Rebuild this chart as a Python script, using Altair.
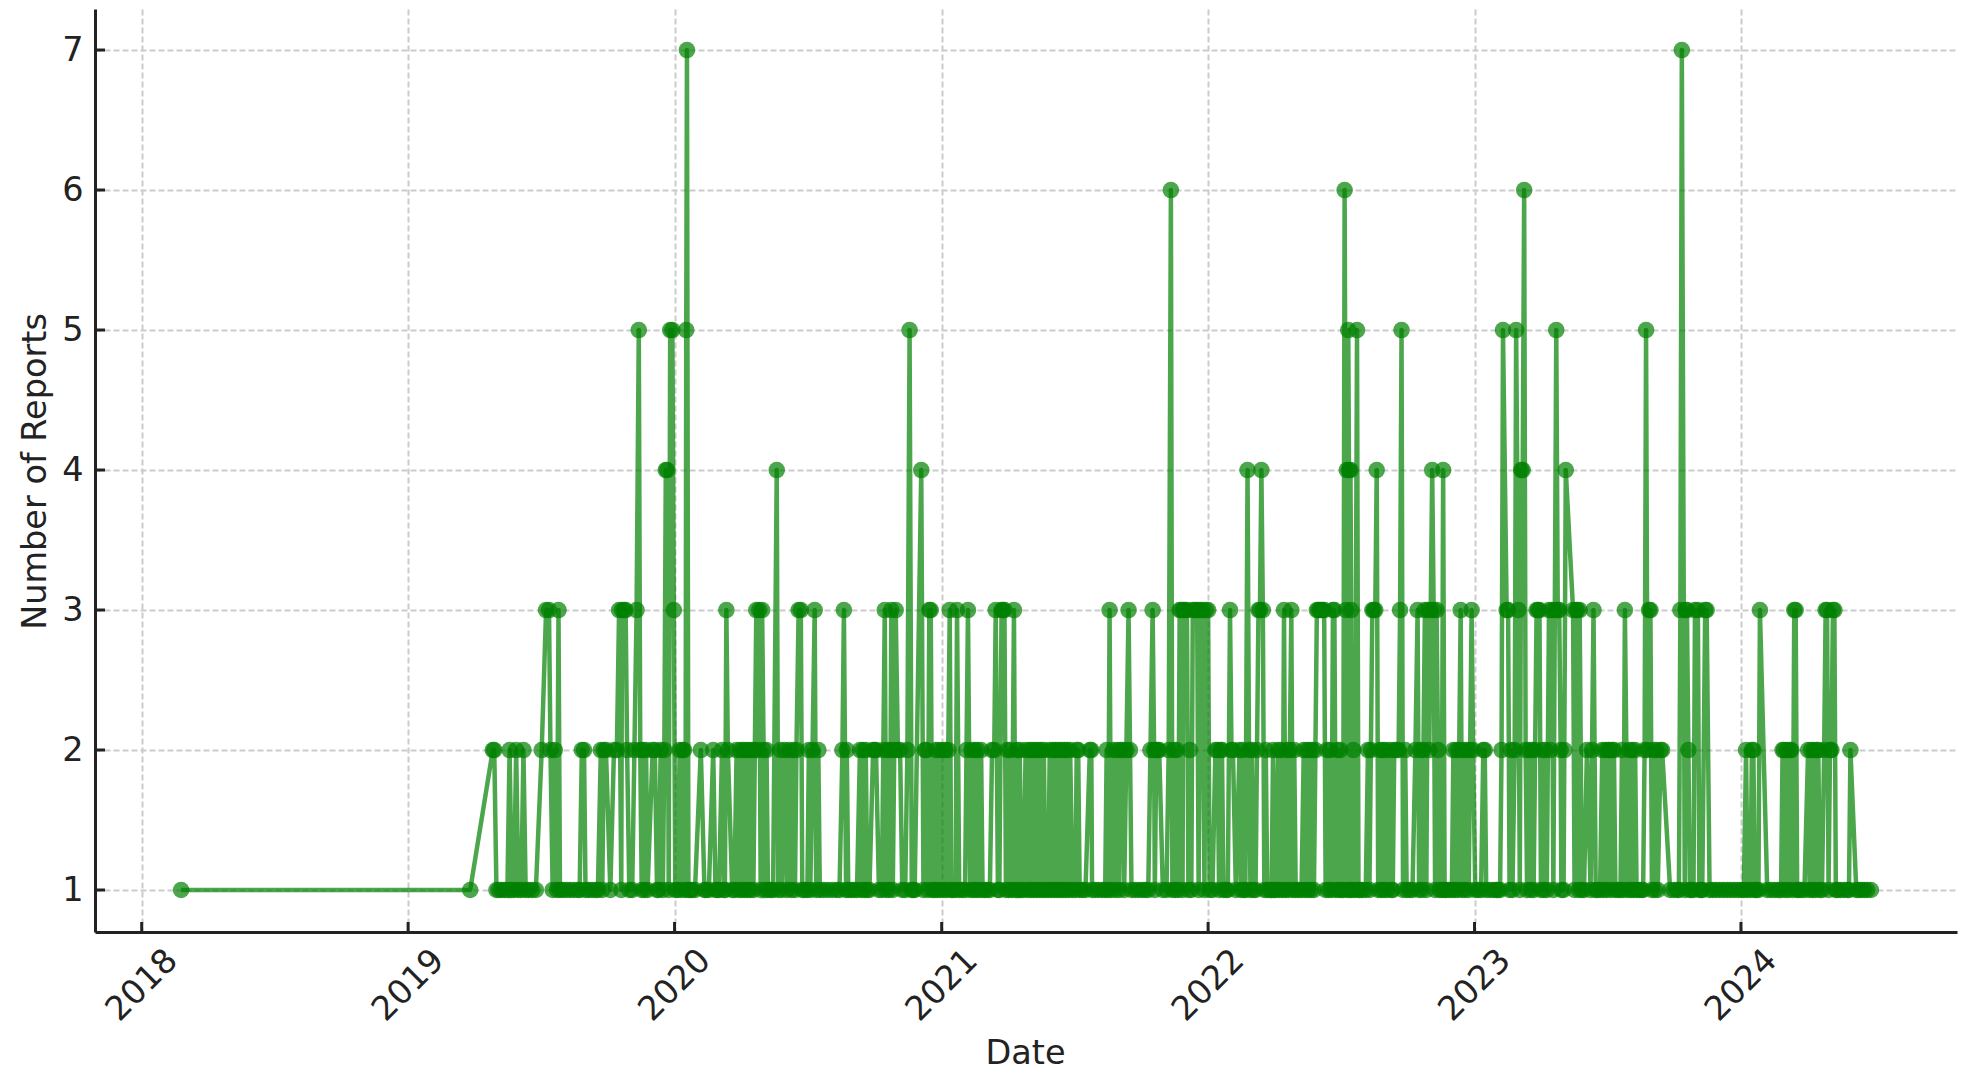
import altair as alt
import pandas as pd

# (days since the first tick reference date, number of reports)
reports_2018_19 = [(52,1),(448,1),(479,2),(481,2),(484,1),(487,1),(491,1),(495,1),(499,1),(502,2),(505,1),(508,1),(511,2),(514,1),(518,1),(521,2),(524,1),(528,1),(533,1),(538,1),(546,2),(552,3),(556,3),(558,2),(561,1),(564,2),(567,1),(569,3),(571,1),(575,1),(580,1),(585,1),(590,1),(596,1),(598,1),(601,2),(604,2),(606,1),(610,1),(615,1),(620,1),(623,1),(627,2),(629,1),(631,2),(634,2),(640,1),(645,2),(649,2),(652,3),(655,1),(656,3),(659,3),(661,3),(663,2),(666,1),(670,1),(673,2),(676,3),(679,5),(681,2),(683,1),(685,2),(687,1),(689,2),(691,1),(698,2),(701,2),(704,1),(706,1),(709,2),(712,1),(714,2),(716,4),(718,4),(720,1),(722,5),(725,5),(727,3),(729,1)]
reports_2020 = [(732,1),(735,2),(737,1),(739,2),(741,2),(743,1),(744,5),(745,7),(747,1),(750,1),(752,1),(756,1),(764,2),(769,1),(771,1),(775,1),(781,2),(784,1),(787,1),(789,1),(793,2),(796,1),(797,1),(799,3),(801,2),(807,1),(810,1),(813,2),(816,1),(818,2),(820,1),(822,2),(824,1),(826,2),(828,1),(830,2),(832,1),(834,2),(836,1),(838,2),(840,3),(842,2),(844,3),(846,1),(848,3),(850,2),(852,1),(854,2),(856,1),(860,1),(863,1),(868,4),(870,1),(873,2),(875,1),(879,2),(882,1),(885,2),(888,1),(891,2),(893,1),(895,2),(898,3),(901,3),(903,1),(906,1),(910,1),(912,2),(914,1),(917,2),(920,3),(922,1),(925,2),(927,1),(932,1),(938,1),(944,1),(950,1),(954,1),(958,2),(960,3),(963,1),(964,2),(966,1),(970,1),(974,1),(978,1),(982,2),(984,1),(986,2),(988,1),(990,2),(992,1),(995,1),(1000,2),(1002,2),(1004,2),(1008,1),(1012,1),(1014,2),(1016,3),(1018,1),(1020,2),(1022,1),(1024,2),(1025,3),(1027,1),(1029,2),(1031,3),(1034,2),(1037,2),(1040,1),(1044,1),(1047,2),(1050,5),(1053,1),(1055,1),(1057,1),(1066,4),(1069,1),(1071,2),(1073,2),(1075,1),(1077,3),(1079,3),(1081,1),(1084,1),(1086,2),(1088,1),(1090,2),(1092,1),(1095,2)]
reports_2021 = [(1097,1),(1099,2),(1101,1),(1103,2),(1105,3),(1107,1),(1109,1),(1113,1),(1115,3),(1118,1),(1122,1),(1126,1),(1128,2),(1130,3),(1133,1),(1135,2),(1137,1),(1139,2),(1141,1),(1143,2),(1145,1),(1148,2),(1150,1),(1153,1),(1157,1),(1160,1),(1163,2),(1166,2),(1168,3),(1171,1),(1173,1),(1176,3),(1178,3),(1180,3),(1182,1),(1184,2),(1186,1),(1188,2),(1190,1),(1193,3),(1195,1),(1197,2),(1199,1),(1201,2),(1203,1),(1206,1),(1209,2),(1212,1),(1214,2),(1216,1),(1218,2),(1220,1),(1222,2),(1224,1),(1226,2),(1228,1),(1230,2),(1232,1),(1234,2),(1236,1),(1240,1),(1242,2),(1244,1),(1246,2),(1248,1),(1250,2),(1252,1),(1254,2),(1256,1),(1258,2),(1260,1),(1262,2),(1264,1),(1266,2),(1268,1),(1270,2),(1273,1),(1277,1),(1279,2),(1281,2),(1283,1),(1287,1),(1291,1),(1297,2),(1299,2),(1300,1),(1304,1),(1309,1),(1314,1),(1318,1),(1320,2),(1322,1),(1324,3),(1326,1),(1329,2),(1332,1),(1334,2),(1337,1),(1339,2),(1342,2),(1344,1),(1347,2),(1350,3),(1352,2),(1354,1),(1359,1),(1364,1),(1369,1),(1373,1),(1377,1),(1380,2),(1383,3),(1385,2),(1386,1),(1388,2),(1390,2),(1392,2),(1397,1),(1402,1),(1405,2),(1408,6),(1410,1),(1412,2),(1414,1),(1416,2),(1418,1),(1420,3),(1422,3),(1424,1),(1425,3),(1427,3),(1430,3),(1432,1),(1434,2),(1436,1),(1438,3),(1441,3),(1444,3),(1446,1),(1448,3),(1451,3),(1454,1),(1456,3),(1459,3)]
reports_2022 = [(1461,1),(1465,1),(1469,2),(1472,2),(1474,1),(1476,2),(1478,2),(1480,1),(1484,1),(1486,1),(1489,3),(1491,2),(1493,2),(1497,1),(1502,2),(1504,1),(1506,2),(1508,1),(1510,1),(1513,4),(1515,2),(1517,1),(1519,2),(1521,1),(1524,1),(1526,2),(1528,3),(1530,3),(1532,4),(1534,3),(1536,1),(1538,2),(1540,1),(1544,1),(1546,1),(1548,2),(1550,1),(1552,1),(1555,2),(1557,1),(1559,2),(1561,1),(1563,3),(1565,1),(1567,2),(1569,1),(1571,2),(1573,3),(1575,1),(1577,2),(1579,1),(1583,1),(1587,1),(1590,2),(1592,1),(1594,2),(1596,1),(1598,2),(1600,1),(1602,2),(1604,1),(1606,2),(1608,3),(1610,3),(1612,3),(1614,3),(1616,3),(1618,3),(1620,1),(1622,2),(1624,1),(1626,2),(1628,1),(1630,3),(1632,3),(1634,1),(1636,2),(1638,1),(1640,2),(1642,1),(1644,1),(1646,6),(1648,3),(1649,4),(1650,1),(1651,5),(1652,4),(1653,1),(1654,4),(1655,3),(1656,1),(1658,2),(1660,1),(1663,5),(1665,1),(1667,1),(1670,1),(1675,1),(1678,2),(1680,1),(1682,2),(1684,3),(1686,3),(1688,3),(1690,4),(1692,1),(1694,2),(1696,1),(1698,2),(1700,1),(1702,2),(1704,1),(1708,2),(1710,1),(1712,1),(1714,2),(1717,2),(1720,2),(1722,3),(1724,5),(1726,1),(1729,2),(1731,1),(1735,1),(1739,1),(1743,2),(1746,3),(1748,1),(1750,2),(1752,1),(1754,2),(1756,3),(1758,1),(1760,3),(1762,2),(1764,3),(1766,4),(1768,3),(1770,1),(1772,3),(1774,2),(1776,1),(1779,1),(1781,4),(1783,1),(1785,1),(1789,1),(1793,1),(1795,2),(1797,1),(1799,2),(1801,1),(1803,2),(1805,3),(1807,1),(1809,2),(1811,1),(1813,2),(1816,1),(1818,2),(1820,3),(1822,2),(1825,1)]
reports_2023 = [(1829,1),(1833,1),(1836,2),(1838,2),(1840,1),(1845,1),(1850,1),(1854,1),(1856,1),(1859,1),(1861,2),(1863,5),(1868,3),(1870,3),(1872,1),(1874,2),(1876,1),(1879,2),(1881,5),(1884,3),(1886,1),(1888,4),(1890,4),(1892,6),(1894,2),(1896,1),(1899,2),(1901,1),(1903,2),(1905,1),(1907,2),(1909,3),(1911,3),(1913,3),(1915,1),(1917,2),(1919,1),(1921,2),(1923,1),(1926,3),(1928,2),(1930,3),(1932,1),(1934,3),(1936,5),(1938,3),(1940,3),(1942,2),(1943,1),(1946,1),(1947,2),(1949,4),(1959,3),(1961,1),(1963,3),(1965,3),(1967,1),(1968,3),(1971,1),(1974,1),(1978,2),(1983,1),(1985,2),(1987,3),(1990,1),(1992,1),(1996,1),(1999,2),(2001,1),(2003,2),(2005,1),(2007,2),(2009,2),(2011,1),(2013,2),(2015,2),(2017,1),(2021,1),(2024,1),(2026,2),(2028,1),(2030,3),(2034,1),(2036,2),(2038,1),(2040,2),(2042,1),(2044,2),(2046,1),(2050,1),(2053,1),(2055,1),(2057,2),(2059,5),(2061,2),(2063,3),(2065,3),(2067,1),(2069,2),(2071,1),(2073,2),(2075,1),(2079,2),(2081,2),(2092,1),(2097,1),(2102,1),(2104,1),(2106,3),(2108,7),(2112,1),(2113,3),(2115,3),(2117,2),(2119,1),(2121,1),(2124,1),(2126,3),(2130,3),(2132,1),(2135,1),(2136,1),(2140,3),(2142,3),(2146,1),(2150,1),(2155,1),(2160,1),(2165,1),(2170,1),(2175,1),(2180,1),(2185,1),(2190,1)]
reports_2024 = [(2193,1),(2196,2),(2198,1),(2202,1),(2204,2),(2206,2),(2208,1),(2210,1),(2213,1),(2215,3),(2225,1),(2230,1),(2235,1),(2240,1),(2244,1),(2246,2),(2248,2),(2250,1),(2252,2),(2254,1),(2256,2),(2258,2),(2260,1),(2262,3),(2264,3),(2266,1),(2268,1),(2272,1),(2276,1),(2281,2),(2283,1),(2285,2),(2287,1),(2289,2),(2291,1),(2293,2),(2295,2),(2297,1),(2300,1),(2303,2),(2305,3),(2307,3),(2309,1),(2311,2),(2313,2),(2315,3),(2317,3),(2319,1),(2321,1),(2325,1),(2330,1),(2335,1),(2337,1),(2339,2),(2347,1),(2350,1),(2354,1),(2358,1),(2362,1),(2367,1)]

year_ticks = ["2018-01-01","2019-01-01","2020-01-01","2021-01-01","2022-01-01","2023-01-01","2024-01-01"]
count_ticks = [1,2,3,4,5,6,7]

rows = reports_2018_19 + reports_2020 + reports_2021 + reports_2022 + reports_2023 + reports_2024
df = pd.DataFrame(rows, columns=["day","count"])
df["date"] = (pd.Timestamp("2018-01-03") + pd.to_timedelta(df["day"], unit="D")).dt.strftime("%Y-%m-%d")

FONT = "DejaVu Sans"
INK = "#222222"
FS = 33.5
H = 923
W = 1862
x_scale = alt.Scale(type="utc", domain=["2017-10-29","2024-10-23"])
y_scale = alt.Scale(domain=[0.7,7.293], nice=False, zero=False)

x_enc = alt.X("date:T", scale=x_scale, axis=alt.Axis(
    values=year_ticks, format="%Y", title="Date", labelAngle=-45, labelAlign="center",
    labelBaseline="middle", labelPadding=53, ticks=False, labelFontSize=FS, titleFontSize=FS,
    labelFont=FONT, titleFont=FONT, labelColor=INK, titleColor=INK, titleFontWeight="normal",
    domainColor=INK, domainWidth=3, grid=True, gridColor="#cccccc", gridWidth=2, gridDash=[6,3],
    labelOverlap=False, labelBound=False, labelFlush=False,
    titleX=930, titleY=121, titleBaseline="middle", titleAlign="center"))
y_enc = alt.Y("count:Q", scale=y_scale, axis=alt.Axis(
    values=count_ticks, format="d", title="Number of Reports", ticks=False, labelPadding=12,
    labelFontSize=FS, titleFontSize=FS, labelFont=FONT, titleFont=FONT, labelColor=INK, titleColor=INK,
    titleFontWeight="normal", domainColor=INK, domainWidth=3, grid=True, gridColor="#cccccc",
    gridWidth=2, gridDash=[6,3], labelBound=False, labelFlush=False,
    titleX=-60, titleY=462, titleBaseline="middle", titleAlign="center"))

line = alt.Chart(df).mark_line(color="#008000", strokeWidth=4.5, opacity=0.7, strokeJoin="round").encode(x=x_enc, y=y_enc)
points = alt.Chart(df).mark_point(color="#008000", filled=True, size=276, opacity=0.7, strokeWidth=0).encode(x=x_enc, y=y_enc)

xt = pd.DataFrame({"date": year_ticks})
yt = pd.DataFrame({"count": count_ticks})
xticks = alt.Chart(xt).mark_rule(color=INK, strokeWidth=3).encode(
    x=x_enc, y=alt.value(H-10), y2=alt.value(H))
yticks = alt.Chart(yt).mark_rule(color=INK, strokeWidth=3).encode(
    y=y_enc, x=alt.value(0), x2=alt.value(10))

chart = alt.layer(line, points, xticks, yticks).properties(
    width=W, height=H,
    autosize=alt.AutoSizeParams(type="none"),
    padding={"left":87,"top":1,"right":10,"bottom":149},
    background="white",
).configure_view(stroke=None)

chart.save("out.html", embed_options={"renderer": "svg", "actions": False})
